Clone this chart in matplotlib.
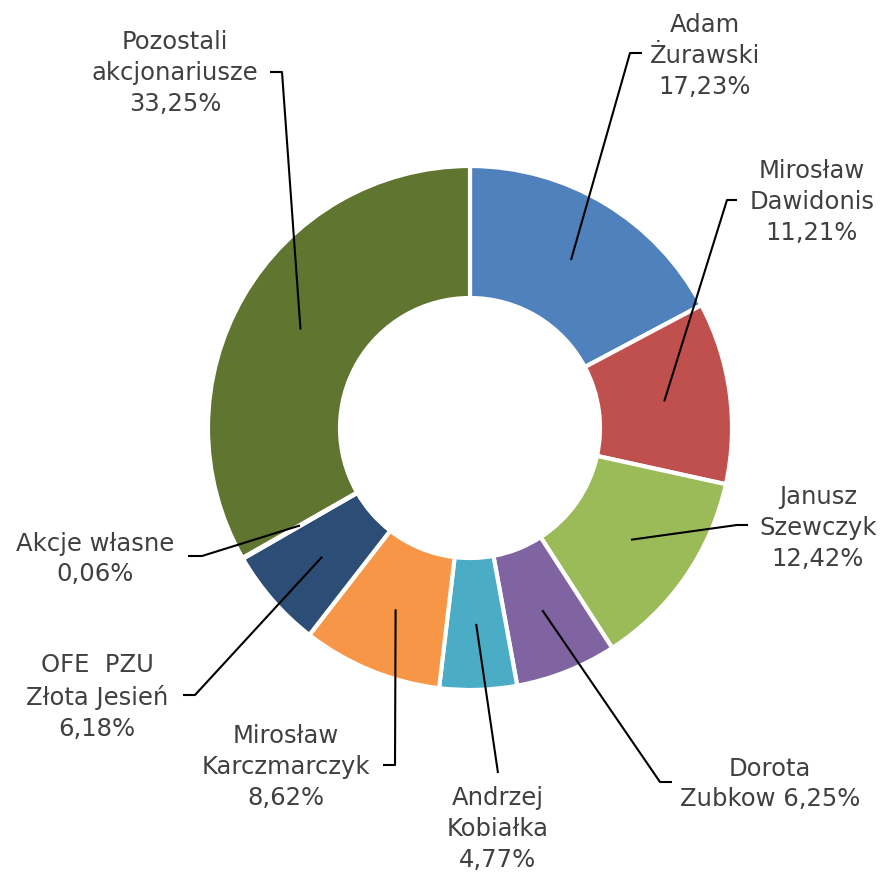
import numpy as np
import matplotlib
matplotlib.use('Agg')
import matplotlib.pyplot as plt

names = ['Adam\nŻurawski', 'Mirosław\nDawidonis', 'Janusz\nSzewczyk', 'Dorota\nZubkow',
         'Andrzej\nKobiałka', 'Mirosław\nKarczmarczyk', 'OFE  PZU\nZłota Jesień',
         'Akcje własne', 'Pozostali\nakcjonariusze']
shares = [17.23, 11.21, 12.42, 6.25, 4.77, 8.62, 6.18, 0.06, 33.25]
colors = ['#4F81BD', '#C0504D', '#9BBB59', '#8064A2', '#4BACC6', '#F79646',
          '#2C4D75', '#772C2A', '#5F7530']

# label layout in pixels: text centre, elbow point, end of short horizontal tick
label_xy = [(705, 56), (812, 202), (818, 528), (770, 784), (498, 829),
            (286, 767), (97, 697), (95, 559), (175, 73)]
elbow = [(630, 53), (727, 200), (737, 525), (660, 782), (498, 773),
         (395, 765), (195, 695), (202, 556), (282, 72)]
tick_end = [(642, 53), (737, 200), (748, 525), (672, 782), None,
            (383, 765), (183, 695), (188, 556), (270, 72)]

cx, cy, R, W = 470, 428, 262, 132

fig = plt.figure(figsize=(8.83, 8.72), dpi=100)
ax = fig.add_axes([0, 0, 1, 1])
ax.pie(shares, colors=colors, startangle=-90, counterclock=True, radius=R,
       center=(cx, cy), wedgeprops=dict(width=W, edgecolor='white', linewidth=3))
ax.set_xlim(0, 883)
ax.set_ylim(872, 0)
ax.set_aspect('auto')
ax.axis('off')

frac = np.cumsum(shares) - np.array(shares) / 2
theta = 2 * np.pi * frac / sum(shares)
r_mid = R - W / 2

for i, name in enumerate(names):
    px = cx + r_mid * np.sin(theta[i])
    py = cy - r_mid * np.cos(theta[i])
    xs = [px, elbow[i][0]]
    ys = [py, elbow[i][1]]
    if tick_end[i] is not None:
        xs.append(tick_end[i][0])
        ys.append(tick_end[i][1])
    ax.plot(xs, ys, color='black', lw=1.5, solid_capstyle='butt')
    pct = f'{shares[i]:.2f}'.replace('.', ',') + '%'
    if name.startswith('Dorota'):
        txt = 'Dorota\nZubkow ' + pct
    else:
        txt = name + '\n' + pct
    ax.text(label_xy[i][0], label_xy[i][1], txt, ha='center', va='center',
            fontsize=17.5, color='#404040', linespacing=1.36, family='DejaVu Sans')

fig.savefig('out.png', dpi=100)
